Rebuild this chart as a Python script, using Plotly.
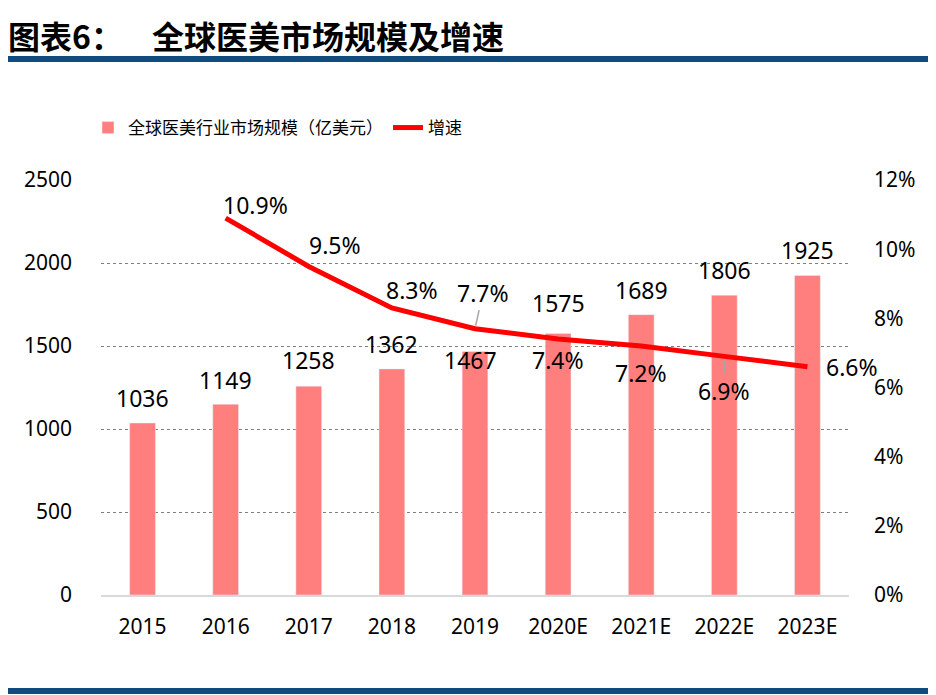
import plotly.graph_objects as go

# data
years = ['2015', '2016', '2017', '2018', '2019', '2020E', '2021E', '2022E', '2023E']
market_size = [1036, 1149, 1258, 1362, 1467, 1575, 1689, 1806, 1925]
growth_years = ['2016', '2017', '2018', '2019', '2020E', '2021E', '2022E', '2023E']
growth_rate = [0.109, 0.095, 0.083, 0.077, 0.074, 0.072, 0.069, 0.066]

# label offsets (pixels) for data labels
bar_label_shift = [(0, 25), (0, 24), (0, 26), (0, 25), (-5, -9), (0, 31), (0, 25), (0, 25), (0, 25)]
line_label_shift = [(30, 13), (26, 21), (20, 18), (8, 36), (0, -21), (0, -27), (0, -35), (45, 0)]

CJK = 'Noto Sans CJK SC'
NUM = 'Noto Sans'
BLUE = '#0E4C80'

# plot area in figure pixels (page adds an 8px body margin)
L, R, T, B = 93, 841, 172, 587
def px(x):
    return (x - L) / (R - L)
def py(y):
    return (B - y) / (B - T)

fig = go.Figure()
fig.add_trace(go.Bar(
    x=years, y=market_size, name='全球医美行业市场规模（亿美元）',
    marker_color='#FF7F7F', yaxis='y'
))
fig.add_trace(go.Scatter(
    x=growth_years, y=growth_rate, name='增速', mode='lines',
    line=dict(color='#FF0000', width=5), yaxis='y2'
))

for x, v, (dx, dy) in zip(years, market_size, bar_label_shift):
    fig.add_annotation(x=years.index(x), y=v, yref='y', text=str(v), showarrow=False,
                       xshift=dx, yshift=dy, font=dict(family=NUM, size=23, color='black'))

for x, v, (dx, dy) in zip(growth_years, growth_rate, line_label_shift):
    i = years.index(x)
    if x in ('2019', '2022E'):
        # labels with a grey leader line
        fig.add_annotation(x=i, y=v, yref='y2', text=f'{v*100:.1f}%', showarrow=True,
                           arrowhead=0, arrowcolor='#A6A6A6', arrowwidth=1.5,
                           ax=dx, ay=-dy, standoff=3, startstandoff=0,
                           font=dict(family=NUM, size=23, color='black'))
    else:
        fig.add_annotation(x=i, y=v, yref='y2', text=f'{v*100:.1f}%', showarrow=False,
                           xshift=dx, yshift=dy, font=dict(family=NUM, size=23, color='black'))

# title
fig.add_annotation(x=px(-2), y=py(2), xref='paper', yref='paper', xanchor='left',
                   yanchor='top', showarrow=False, text='<b>图表6：</b>',
                   font=dict(family=CJK, size=32, color='black'))
fig.add_annotation(x=px(142), y=py(2), xref='paper', yref='paper', xanchor='left',
                   yanchor='top', showarrow=False, text='<b>全球医美市场规模及增速</b>',
                   font=dict(family=CJK, size=32, color='black'))

fig.update_layout(
    width=936, height=695,
    margin=dict(l=L, r=936 - R, t=T, b=695 - B),
    plot_bgcolor='white', paper_bgcolor='white',
    showlegend=True,
    legend=dict(orientation='h', x=px(80), y=py(120),
                xanchor='left', yanchor='middle', font=dict(family=CJK, size=17, color='black'),
                itemwidth=30),
    shapes=[
        dict(type='rect', xref='paper', yref='paper', x0=px(-8), x1=px(936), y0=py(54),
             y1=py(48), fillcolor=BLUE, line_width=0, layer='above'),
        dict(type='rect', xref='paper', yref='paper', x0=px(-8), x1=px(936), y0=py(686),
             y1=py(680), fillcolor=BLUE, line_width=0, layer='above'),
    ],
    xaxis=dict(type='category', categoryorder='array', categoryarray=years,
               range=[-0.5, len(years) - 0.5],
               showline=True, linecolor='#D9D9D9', linewidth=2, ticks='',
               tickfont=dict(family=NUM, size=21, color='black'), ticklabelstandoff=12),
    yaxis=dict(range=[0, 2500], dtick=500, showgrid=True, gridcolor='#7F7F7F', griddash='dot',
               gridwidth=1, zeroline=False, showline=False, ticks='',
               tickfont=dict(family=NUM, size=21, color='black'), ticklabelstandoff=28),
    yaxis2=dict(range=[0, 0.12], dtick=0.02, tickformat='.0%', overlaying='y', side='right',
                showgrid=False, zeroline=False, showline=False, ticks='',
                tickfont=dict(family=NUM, size=21, color='black'), ticklabelstandoff=24),
    bargap=0.69,
)

fig.write_html('out.html')
